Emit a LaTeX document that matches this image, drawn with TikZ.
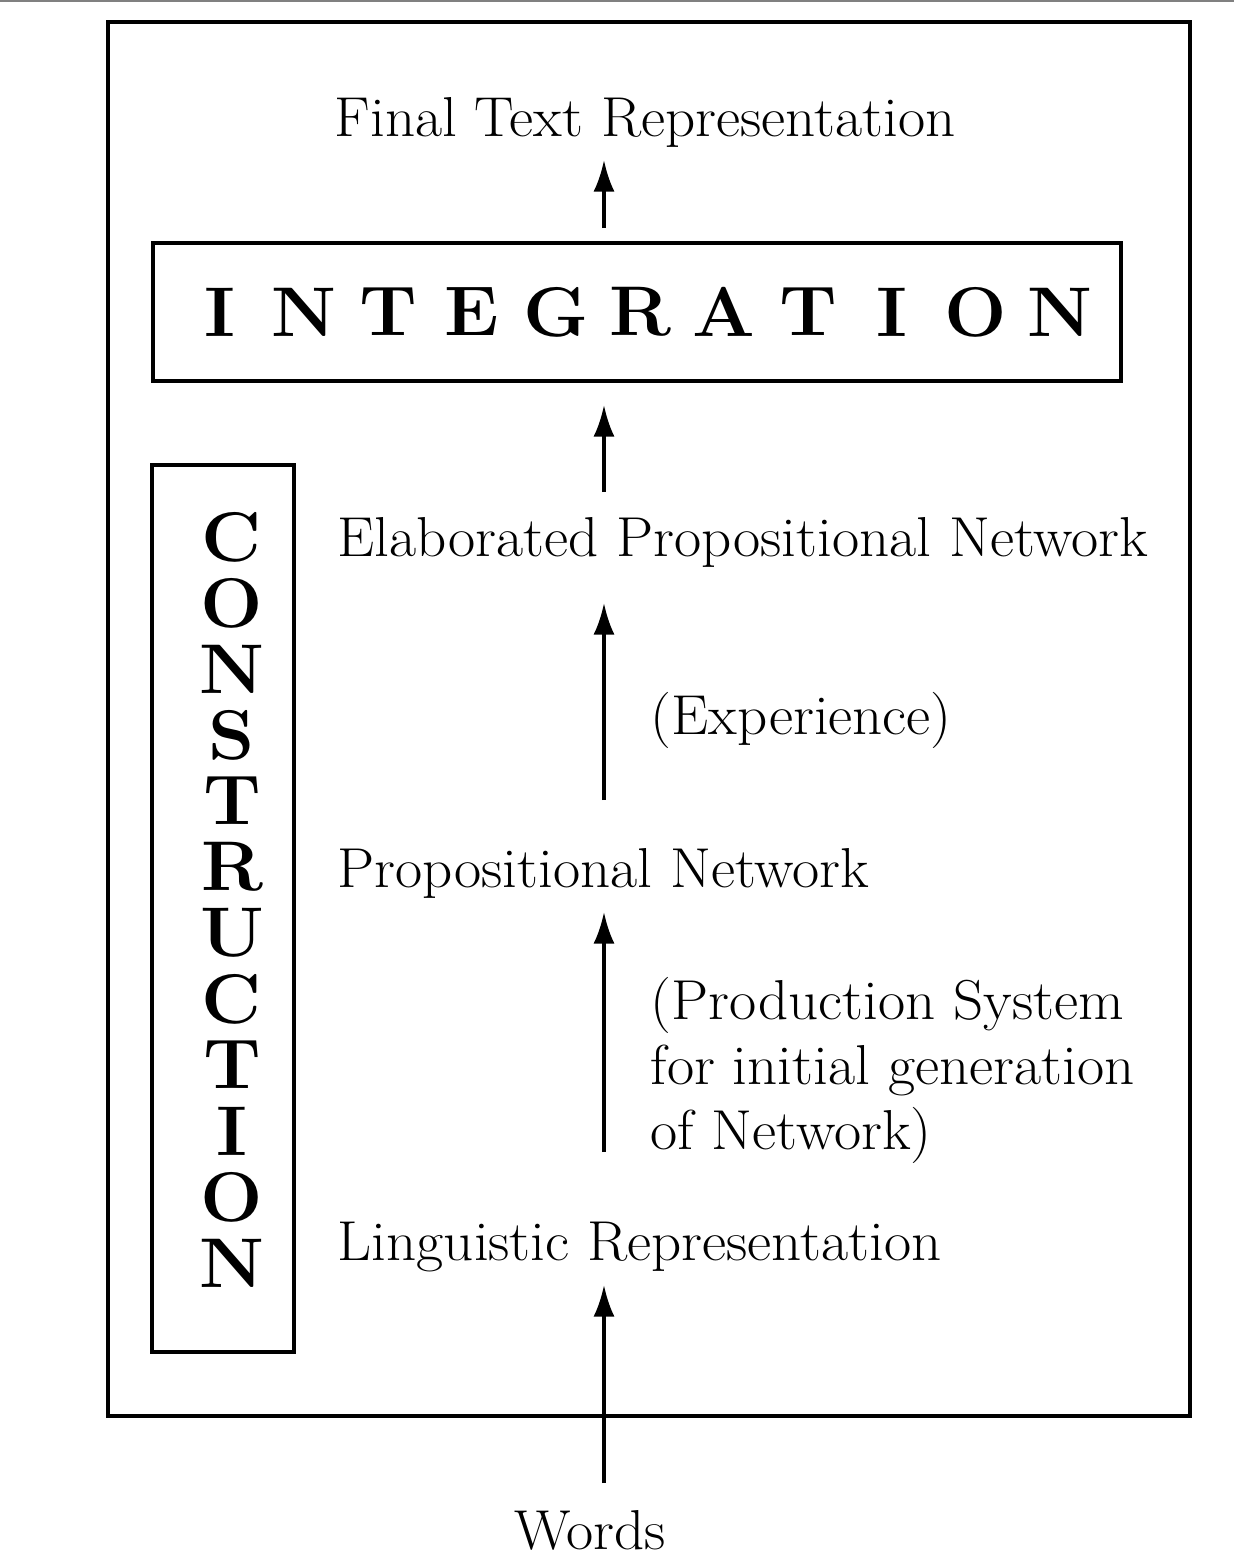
\documentclass[tikz,border=0pt]{standalone}
\usepackage{tikz}
\usetikzlibrary{arrows.meta,positioning,calc}
\newcommand{\widetext}[1]{\scalebox{1.05}[1]{#1}}

\begin{document}
\begin{tikzpicture}[
  x=0.01cm, y=-0.01cm,
  label/.style={font=\fontsize{16}{19}\selectfont, inner sep=0pt},
  bigletter/.style={font=\fontsize{20}{22}\selectfont\bfseries, inner sep=0pt},
  frame/.style={draw, line width=1.2pt},
  flow/.style={-{Latex[length=9pt,width=6pt]}, line width=1pt},
  >=Stealth
]
  \useasboundingbox (0,0) rectangle (1234,1560);
  \draw[line width=0.5pt, gray] (0,1) -- (1234,1);

  % Frames
  \draw[frame] (108,22) rectangle (1190,1416);
  \draw[frame] (153,243) rectangle (1121,381);
  \draw[frame] (152,465) rectangle (294,1352);

  % Integration letters
  \foreach \ch [count=\i from 0] in {I,N,T,E,G,R,A,T,I,O,N}
    \node[bigletter] (int\i) at (220+84*\i,312) {\widetext{\ch}};

  % Construction letters
  \foreach \ch [count=\i from 0] in {C,O,N,S,T,R,U,C,T,I,O,N}
    \node[bigletter] (con\i) at (232,537+66*\i) {\widetext{\ch}};

  % Texts
  \node[label] (final) at (645,122) {\widetext{Final Text Representation}};
  \node[label, anchor=west] (elab) at (337,542) {\widetext{Elaborated Propositional Network}};
  \node[label, anchor=west] (exp) at (650,720) {\widetext{(Experience)}};
  \node[label, anchor=west] (prop) at (337,873) {\widetext{Propositional Network}};
  \node[label, anchor=west] (prod1) at (650,1005) {\widetext{(Production System}};
  \node[label, anchor=west] (prod2) at (650,1070) {\widetext{for initial generation}};
  \node[label, anchor=west] (prod3) at (650,1135) {\widetext{of Network)}};
  \node[label, anchor=west] (ling) at (337,1247) {\widetext{Linguistic Representation}};
  \node[label] (words) at (590,1530) {\widetext{Words}};

  % Arrow ends
  \coordinate (a1s) at (604,228); \coordinate (a1e) at (604,160);
  \coordinate (a2s) at (604,492); \coordinate (a2e) at (604,405);
  \coordinate (a3s) at (604,800); \coordinate (a3e) at (604,603);
  \coordinate (a4s) at (604,1152); \coordinate (a4e) at (604,912);
  \coordinate (a5s) at (604,1483); \coordinate (a5e) at (604,1285);

  % Arrows
  \draw[flow] (a1s) -- (a1e);
  \draw[flow] (a2s) -- (a2e);
  \draw[flow] (a3s) -- (a3e);
  \draw[flow] (a4s) -- (a4e);
  \draw[flow] (a5s) -- (a5e);
\end{tikzpicture}
\end{document}
